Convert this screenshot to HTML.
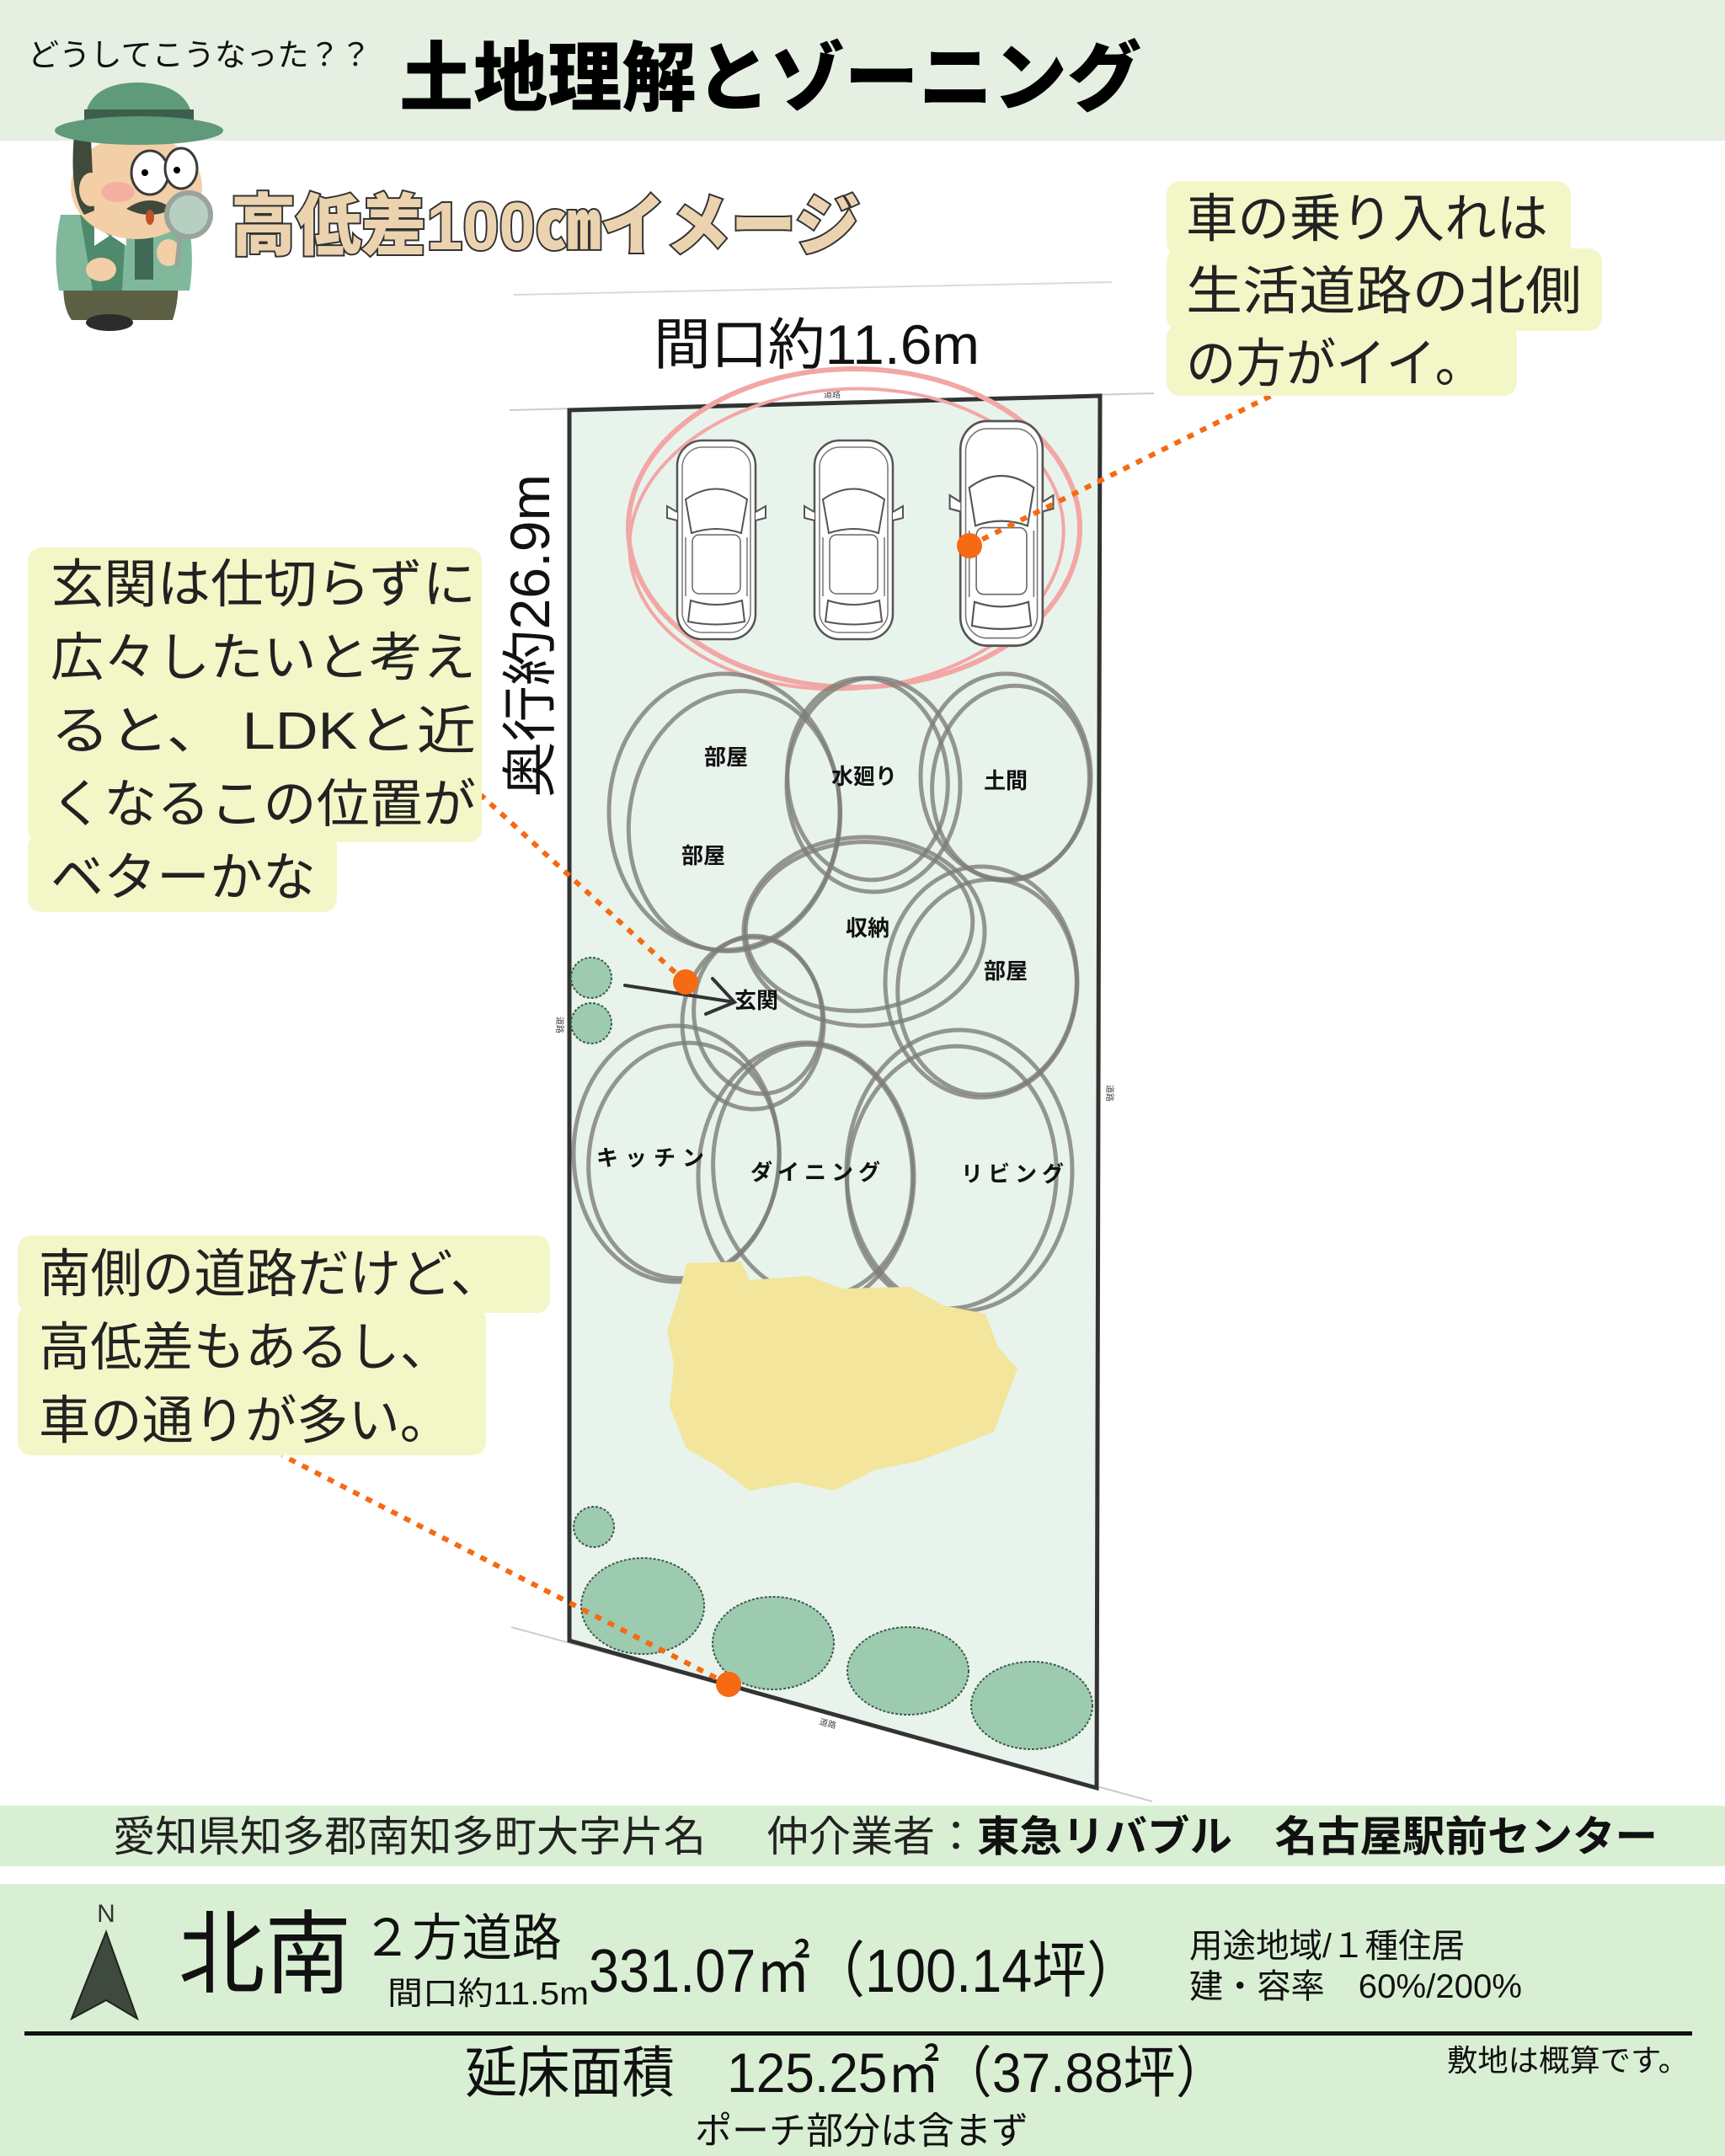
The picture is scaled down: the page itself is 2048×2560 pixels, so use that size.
<!DOCTYPE html>
<html><head><meta charset="utf-8"><style>
html,body{margin:0;padding:0;background:#fff;}
svg{display:block;}
text{font-family:"Liberation Sans","Noto Sans CJK JP",sans-serif;}
</style></head><body>
<svg width="2048" height="2560" viewBox="0 0 2048 2560" xmlns="http://www.w3.org/2000/svg">
<defs>
<g id="car">
 <rect x="4" y="0" width="93" height="236" rx="30" fill="#fff" stroke="#555" stroke-width="2.5"/>
 <rect x="10" y="8" width="81" height="220" rx="24" fill="none" stroke="#777" stroke-width="1.5"/>
 <path d="M14 70 Q50 45 87 70 L80 110 Q50 100 21 110 Z" fill="none" stroke="#555" stroke-width="2"/>
 <rect x="22" y="112" width="57" height="70" rx="8" fill="none" stroke="#666" stroke-width="1.5"/>
 <path d="M20 190 Q50 200 81 190 L84 215 Q50 222 17 215 Z" fill="none" stroke="#555" stroke-width="2"/>
 <path d="M4 85 L-8 78 L-8 92 L4 95 M97 85 L109 78 L109 92 L97 95" fill="#fff" stroke="#555" stroke-width="2"/>
 <line x1="14" y1="115" x2="14" y2="185" stroke="#777" stroke-width="1.5"/>
 <line x1="87" y1="115" x2="87" y2="185" stroke="#777" stroke-width="1.5"/>
</g>
</defs>

<rect x="0" y="0" width="2048" height="167" fill="#e5efe2"/>
<text x="33" y="78" font-size="37" fill="#111" textLength="408" lengthAdjust="spacingAndGlyphs">どうしてこうなった？？</text>
<text x="474" y="124" font-size="90" font-weight="900" fill="#000" textLength="881" lengthAdjust="spacingAndGlyphs">土地理解とゾーニング</text>

<!-- character -->
<g>
 <path d="M78 310 Q70 360 85 380 L205 380 Q215 350 210 310 Z" fill="#5d5f45"/>
 <ellipse cx="130" cy="383" rx="28" ry="10" fill="#2c2c2c"/>
 <path d="M72 255 Q62 300 70 345 L225 345 Q232 300 222 255 Z" fill="#7fb89a"/>
 <path d="M95 255 L110 345 L145 345 L150 255 Z" fill="#4f8a6c"/>
 <rect x="160" y="262" width="22" height="70" fill="#3f6a55"/>
 <path d="M112 268 L130 280 L112 292 Z M150 268 L132 280 L150 292 Z" fill="#fff"/>
 <ellipse cx="120" cy="320" rx="18" ry="14" fill="#f3cfa8"/>
 <ellipse cx="200" cy="300" rx="14" ry="16" fill="#f3cfa8"/>
 <ellipse cx="162" cy="222" rx="78" ry="62" fill="#f3cfa8"/>
 <path d="M88 160 Q82 230 100 255 L112 250 L108 165 Z" fill="#3f4a3c"/>
 <ellipse cx="108" cy="225" rx="14" ry="20" fill="#f3cfa8"/>
 <ellipse cx="140" cy="228" rx="20" ry="12" fill="#f3b0a0"/>
 <ellipse cx="178" cy="205" rx="22" ry="26" fill="#fff" stroke="#3a3a3a" stroke-width="3"/>
 <ellipse cx="215" cy="200" rx="19" ry="24" fill="#fff" stroke="#3a3a3a" stroke-width="3"/>
 <circle cx="172" cy="205" r="4" fill="#000"/><circle cx="210" cy="202" r="4" fill="#000"/>
 <path d="M150 248 Q178 228 205 248 Q178 262 150 248 Z" fill="#3f4a3c"/>
 <ellipse cx="178" cy="258" rx="5" ry="9" fill="#c0502a"/>
 <circle cx="224" cy="255" r="26" fill="#b7cfc0" stroke="#9aa39d" stroke-width="6"/>
 <line x1="214" y1="282" x2="210" y2="318" stroke="#9aa39d" stroke-width="6"/>
 <path d="M100 150 Q100 98 165 98 Q228 100 230 150 Z" fill="#5f9a7a"/>
 <rect x="100" y="130" width="130" height="18" fill="#3d5e4c"/>
 <ellipse cx="165" cy="155" rx="100" ry="17" fill="#5f9a7a"/>
</g>
<text x="274" y="296" font-size="80" font-weight="900" fill="#ecd3b0" stroke="#333" stroke-width="4" paint-order="stroke" textLength="747" lengthAdjust="spacingAndGlyphs">高低差100㎝イメージ</text>

<path d="M610 350 L1320 335" stroke="#d8dcd8" stroke-width="2" fill="none"/>
<path d="M605 487 L1370 467" stroke="#ccc" stroke-width="2" fill="none"/>
<path d="M607 1932 L1368 2139" stroke="#ccc" stroke-width="2" fill="none"/>
<text x="988" y="472" font-size="10" fill="#444" text-anchor="middle">道路</text>
<text x="983" y="2050" font-size="10" fill="#444" text-anchor="middle" transform="rotate(15 983 2046)">道路</text>
<text x="661" y="1217" font-size="10" fill="#444" text-anchor="middle" transform="rotate(90 661 1217)">道路</text>
<text x="1314" y="1298" font-size="10" fill="#444" text-anchor="middle" transform="rotate(90 1314 1298)">道路</text>

<polygon points="676,487 1306,470 1302,2123 676,1948" fill="#e8f3ec" stroke="#333" stroke-width="5"/>

<text x="776" y="432" font-size="66" fill="#111" textLength="387" lengthAdjust="spacingAndGlyphs">間口約11.6m</text>
<text x="0" y="0" font-size="66" fill="#111" text-anchor="middle" textLength="384" lengthAdjust="spacingAndGlyphs" transform="translate(652 755) rotate(-90)">奥行約26.9m</text>

<g fill="none" stroke="#f2a7a5" stroke-width="6">
 <ellipse cx="1014" cy="627" rx="268" ry="189"/>
 <ellipse cx="1005" cy="640" rx="258" ry="178" transform="rotate(-4 1005 640)" stroke-width="4"/>
</g>
<use href="#car" transform="translate(800 523)"/>
<use href="#car" transform="translate(963 523)"/>
<use href="#car" transform="translate(1136 500) scale(1.05 1.13)"/>

<g fill="none" stroke="#7d7d78" stroke-width="5" stroke-opacity="0.8">
 <ellipse cx="860" cy="964" rx="137" ry="164"/>
 <ellipse cx="872" cy="975" rx="125" ry="155" transform="rotate(8 872 975)"/>
 <ellipse cx="1037" cy="932" rx="103" ry="127"/>
 <ellipse cx="1030" cy="925" rx="95" ry="120" transform="rotate(-6 1030 925)"/>
 <ellipse cx="1194" cy="922" rx="101" ry="122"/>
 <ellipse cx="1200" cy="930" rx="93" ry="116" transform="rotate(7 1200 930)"/>
 <ellipse cx="1026" cy="1106" rx="143" ry="112"/>
 <ellipse cx="1020" cy="1100" rx="135" ry="100" transform="rotate(-5 1020 1100)"/>
 <ellipse cx="1165" cy="1166" rx="114" ry="137"/>
 <ellipse cx="1172" cy="1172" rx="106" ry="128" transform="rotate(6 1172 1172)"/>
 <ellipse cx="894" cy="1215" rx="84" ry="102"/>
 <ellipse cx="900" cy="1205" rx="76" ry="94" transform="rotate(-8 900 1205)"/>
 <ellipse cx="803" cy="1370" rx="122" ry="152"/>
 <ellipse cx="812" cy="1378" rx="113" ry="140" transform="rotate(6 812 1378)"/>
 <ellipse cx="957" cy="1397" rx="128" ry="159"/>
 <ellipse cx="965" cy="1390" rx="118" ry="150" transform="rotate(-6 965 1390)"/>
 <ellipse cx="1139" cy="1390" rx="134" ry="167"/>
 <ellipse cx="1130" cy="1398" rx="124" ry="156" transform="rotate(5 1130 1398)"/>
</g>
<g font-size="26" font-weight="bold" fill="#111" text-anchor="middle">
 <text x="862" y="908">部屋</text>
 <text x="835" y="1025">部屋</text>
 <text x="1026" y="931">水廻り</text>
 <text x="1194" y="936">土間</text>
 <text x="1030" y="1111">収納</text>
 <text x="1194" y="1162">部屋</text>
 <text x="898" y="1197">玄関</text>
 <text x="776" y="1384" letter-spacing="8">キッチン</text>
 <text x="971" y="1401" letter-spacing="6">ダイニング</text>
 <text x="1205" y="1403" letter-spacing="6">リビング</text>
</g>
<path d="M742 1170 L872 1190 M846 1162 L872 1190 L838 1204" stroke="#333" stroke-width="4" fill="none" stroke-linecap="round"/>

<path d="M815 1500 L880 1498 L890 1520 L960 1515 L1000 1530 L1080 1528 L1120 1550 L1170 1560 L1185 1600 L1208 1625 L1195 1660 L1180 1700 L1130 1720 L1090 1735 L1040 1745 L990 1770 L945 1760 L890 1770 L850 1740 L815 1720 L795 1670 L800 1620 L792 1580 L805 1540 Z" fill="#f3e59b"/>

<g fill="#9dcbb0" stroke="#3d5a48" stroke-width="2" stroke-dasharray="3 2">
 <circle cx="702" cy="1161" r="24"/>
 <circle cx="702" cy="1215" r="24"/>
 <circle cx="705" cy="1813" r="24"/>
 <ellipse cx="763" cy="1907" rx="73" ry="57"/>
 <ellipse cx="918" cy="1951" rx="72" ry="55"/>
 <ellipse cx="1078" cy="1984" rx="72" ry="52"/>
 <ellipse cx="1225" cy="2025" rx="72" ry="52"/>
</g>

<g stroke="#f56a12" stroke-width="6" stroke-dasharray="8 9" fill="none">
 <line x1="1151" y1="648" x2="1519" y2="465"/>
 <line x1="814" y1="1166" x2="571" y2="944"/>
 <line x1="865" y1="2000" x2="335" y2="1728"/>
</g>
<g fill="#f56a12">
 <circle cx="1151" cy="648" r="15"/>
 <circle cx="814" cy="1166" r="15"/>
 <circle cx="865" cy="2000" r="15"/>
</g>

<g fill="#f3f7c8">
 <rect x="1385" y="215" width="480" height="90" rx="16"/>
 <rect x="1385" y="295" width="517" height="98" rx="16"/>
 <rect x="1385" y="385" width="416" height="85" rx="16"/>
 <rect x="33" y="650" width="539" height="350" rx="16"/>
 <rect x="33" y="990" width="367" height="93" rx="16"/>
 <rect x="21" y="1467" width="632" height="92" rx="16"/>
 <rect x="21" y="1550" width="556" height="178" rx="16"/>
</g>
<g font-size="62" fill="#222">
 <text x="1408" y="281" textLength="430" lengthAdjust="spacingAndGlyphs">車の乗り入れは</text>
 <text x="1408" y="367" textLength="470" lengthAdjust="spacingAndGlyphs">生活道路の北側</text>
 <text x="1408" y="453" textLength="355" lengthAdjust="spacingAndGlyphs">の方がイイ。</text>
 <text x="60" y="715" textLength="505" lengthAdjust="spacingAndGlyphs">玄関は仕切らずに</text>
 <text x="60" y="802" textLength="505" lengthAdjust="spacingAndGlyphs">広々したいと考え</text>
 <text x="60" y="889" textLength="505" lengthAdjust="spacingAndGlyphs">ると、 LDKと近</text>
 <text x="60" y="976" textLength="505" lengthAdjust="spacingAndGlyphs">くなるこの位置が</text>
 <text x="60" y="1063" textLength="315" lengthAdjust="spacingAndGlyphs">ベターかな</text>
 <text x="46" y="1534" textLength="550" lengthAdjust="spacingAndGlyphs">南側の道路だけど、</text>
 <text x="46" y="1621" textLength="490" lengthAdjust="spacingAndGlyphs">高低差もあるし、</text>
 <text x="46" y="1708" textLength="490" lengthAdjust="spacingAndGlyphs">車の通りが多い。</text>
</g>

<rect x="0" y="2144" width="2048" height="72" fill="#d9efd4"/>
<text x="134" y="2198" font-size="50" fill="#222" textLength="704" lengthAdjust="spacingAndGlyphs">愛知県知多郡南知多町大字片名</text>
<text x="910" y="2198" font-size="50" fill="#222" textLength="250" lengthAdjust="spacingAndGlyphs">仲介業者：</text>
<text x="1160" y="2198" font-size="50" font-weight="bold" fill="#111" textLength="808" lengthAdjust="spacingAndGlyphs">東急リバブル　名古屋駅前センター</text>

<rect x="0" y="2237" width="2048" height="323" fill="#d9efd4"/>
<rect x="29" y="2412" width="1980" height="5" fill="#111"/>
<text x="126" y="2282" font-size="30" fill="#333" text-anchor="middle">N</text>
<polygon points="126,2294 85,2397 126,2375 163,2397" fill="#3e4a3e" stroke="#222" stroke-width="2"/>
<text x="212" y="2358" font-size="108" fill="#111" textLength="205" lengthAdjust="spacingAndGlyphs">北南</text>
<text x="430" y="2322" font-size="60" fill="#111" textLength="237" lengthAdjust="spacingAndGlyphs">２方道路</text>
<text x="460" y="2380" font-size="38" fill="#111" textLength="239" lengthAdjust="spacingAndGlyphs">間口約11.5m</text>
<text x="699" y="2365" font-size="72" fill="#111" textLength="656" lengthAdjust="spacingAndGlyphs">331.07㎡（100.14坪）</text>
<text x="1412" y="2324" font-size="40" fill="#111" textLength="327" lengthAdjust="spacingAndGlyphs">用途地域/１種住居</text>
<text x="1412" y="2372" font-size="40" fill="#111" textLength="395" lengthAdjust="spacingAndGlyphs">建・容率　60%/200%</text>
<text x="552" y="2484" font-size="66" fill="#111" textLength="906" lengthAdjust="spacingAndGlyphs">延床面積　125.25㎡（37.88坪）</text>
<text x="825" y="2545" font-size="44" fill="#111" textLength="396" lengthAdjust="spacingAndGlyphs">ポーチ部分は含まず</text>
<text x="1718" y="2459" font-size="36" fill="#111" textLength="287" lengthAdjust="spacingAndGlyphs">敷地は概算です。</text>
</svg>
</body></html>
